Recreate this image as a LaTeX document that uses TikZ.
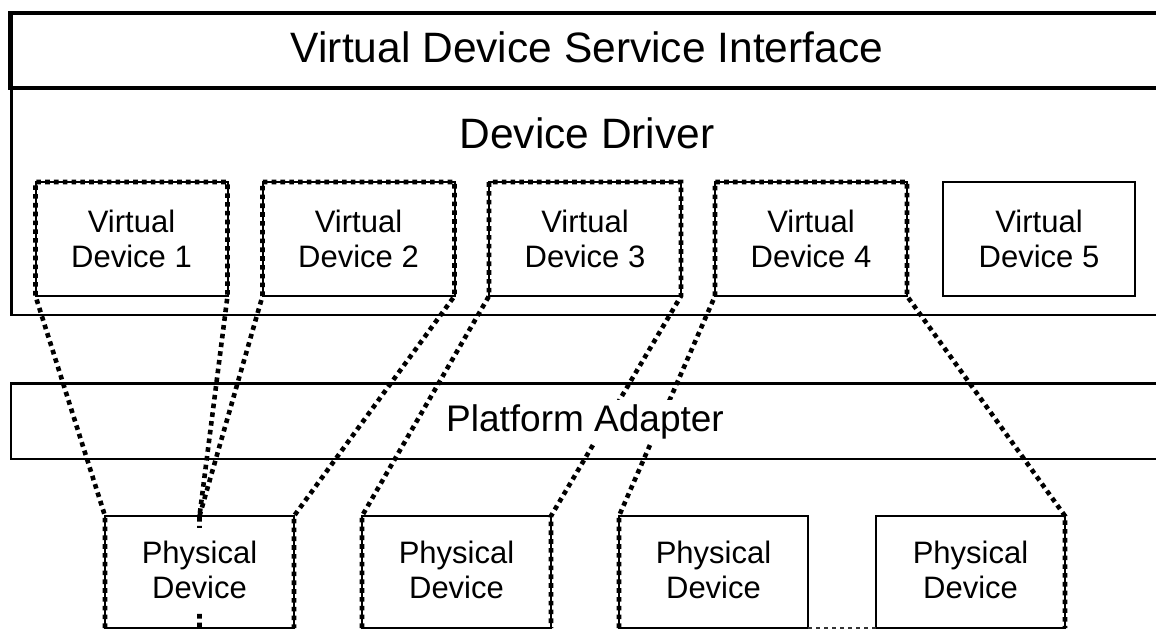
\documentclass[tikz,border=0pt]{standalone}
\usepackage{fontspec}
\setmainfont{Liberation Sans}
\begin{document}
\begin{tikzpicture}[x=1pt,y=-1pt,
  band/.style={draw=black,line width=2.2pt},
  topband/.style={draw=black,line width=4.5pt},
  devbox/.style={draw=black,line width=2pt,minimum width=192pt,minimum height=114pt,inner sep=0pt,outer sep=0pt},
  physbox/.style={draw=black,line width=2pt,minimum width=189pt,minimum height=112pt,inner sep=0pt,outer sep=0pt},
  proj/.style={draw=black,line width=4.6pt,dash pattern=on 4.6pt off 4.2pt,line join=miter},
  bigtext/.style={font=\fontsize{42.5}{50}\selectfont,text=black,anchor=base,inner sep=0pt},
  midtext/.style={font=\fontsize{37}{44}\selectfont,text=black,anchor=base,fill=white,inner xsep=3pt,inner ysep=4pt},
  boxtext/.style={font=\fontsize{31}{35}\selectfont,align=center,text=black,inner sep=0pt},
  phystext/.style={boxtext,fill=white,inner xsep=4pt,inner ysep=13pt}
]
\clip (0,0) rectangle (1156,629);
\fill[white] (0,0) rectangle (1156,629);

% layer bands
\draw[band] (11.5,88) rectangle (1175,315);
\draw[band] (11,383.5) rectangle (1175,459);
\draw[topband] (10.5,13) rectangle (1175,88);

\node[bigtext] (vdsi) at (587,62) {Virtual Device Service Interface};
\node[bigtext] (drv) at (587,148) {Device Driver};

% virtual devices
\node[devbox] (vd1) at (131.5,239) {};
\node[devbox] (vd2) at (358.5,239) {};
\node[devbox] (vd3) at (585,239) {};
\node[devbox] (vd4) at (811,239) {};
\node[devbox] (vd5) at (1039,239) {};

% physical devices
\node[physbox] (pd1) at (199.5,572) {};
\node[physbox] (pd2) at (456.5,572) {};
\node[physbox] (pd3) at (713.5,572) {};
\node[physbox] (pd4) at (970.5,572) {};

% projections of virtual devices onto physical devices
\draw[proj] (pd1.south west) -- (pd1.north west) -- (vd1.south west) -- (vd1.north west)
  -- (vd1.north east) -- (vd1.south east) -- (pd1.north) -- (pd1.south);
\draw[proj] (pd1.north) -- (vd2.south west) -- (vd2.north west) -- (vd2.north east)
  -- (vd2.south east) -- (pd1.north east) -- (pd1.south east);
\draw[proj] (pd2.south west) -- (pd2.north west) -- (vd3.south west) -- (vd3.north west)
  -- (vd3.north east) -- (vd3.south east) -- (pd2.north east) -- (pd2.south east);
\draw[proj] (pd3.south west) -- (pd3.north west) -- (vd4.south west) -- (vd4.north west)
  -- (vd4.north east) -- (vd4.south east) -- (pd4.north east) -- (pd4.south east);
\draw[draw=black!80,line width=1.6pt,dash pattern=on 4pt off 4pt] (pd3.south east) -- (pd4.south west);

% labels
\node[midtext] (pa) at (585,431) {Platform Adapter};
\node[boxtext] (vd1l) at (vd1.center) {Virtual\\Device 1};
\node[boxtext] (vd2l) at (vd2.center) {Virtual\\Device 2};
\node[boxtext] (vd3l) at (vd3.center) {Virtual\\Device 3};
\node[boxtext] (vd4l) at (vd4.center) {Virtual\\Device 4};
\node[boxtext] (vd5l) at (vd5.center) {Virtual\\Device 5};
\node[phystext] (pd1l) at ([yshift=2pt]pd1.center) {Physical\\Device};
\node[phystext] (pd2l) at ([yshift=2pt]pd2.center) {Physical\\Device};
\node[phystext] (pd3l) at ([yshift=2pt]pd3.center) {Physical\\Device};
\node[phystext] (pd4l) at ([yshift=2pt]pd4.center) {Physical\\Device};
\end{tikzpicture}
\end{document}
